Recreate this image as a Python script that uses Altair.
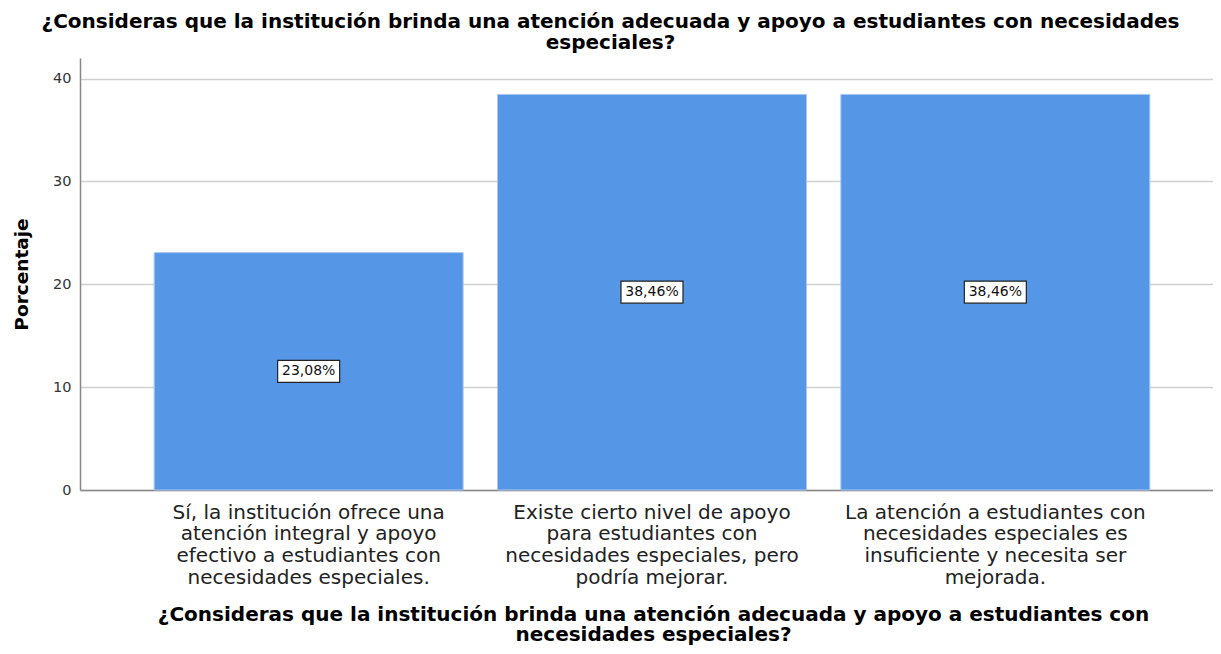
import altair as alt
import pandas as pd

categories = [
    "Sí, la institución ofrece una\natención integral y apoyo\nefectivo a estudiantes con\nnecesidades especiales.",
    "Existe cierto nivel de apoyo\npara estudiantes con\nnecesidades especiales, pero\npodría mejorar.",
    "La atención a estudiantes con\nnecesidades especiales es\ninsuficiente y necesita ser\nmejorada.",
]
values = [23.08, 38.46, 38.46]
value_labels = ["23,08%", "38,46%", "38,46%"]

title_lines = [
    "¿Consideras que la institución brinda una atención adecuada y apoyo a estudiantes con necesidades",
    "especiales?",
]
x_title_lines = [
    "¿Consideras que la institución brinda una atención adecuada y apoyo a estudiantes con",
    "necesidades especiales?",
]
y_title = "Porcentaje"

df = pd.DataFrame({"cat": categories, "val": values, "lab": value_labels})
df["mid"] = df["val"] / 2

FONT = "DejaVu Sans"

x_enc = alt.X(
    "cat:N",
    sort=categories,
    scale=alt.Scale(paddingInner=0.1, paddingOuter=0.2, align=0.54),
    axis=alt.Axis(
        title=x_title_lines,
        labelExpr="split(datum.value, '\\n')",
        labelAngle=0,
        labelFontSize=20,
        labelLineHeight=21.7,
        labelColor="#222222",
        labelPadding=12,
        labelLimit=400,
        ticks=False,
        domainColor="#888888",
        domainWidth=1.5,
        titleFontSize=20,
        titleFontWeight="bold",
        titleColor="#000000",
        titleLineHeight=20,
        titlePadding=17,
        titleX=573,
        titleAlign="center",
        grid=False,
    ),
)

bars = alt.Chart(df).mark_bar(color="#5596E6", stroke="#a9c8f2", strokeWidth=1).encode(
    x=x_enc,
    y=alt.Y(
        "val:Q",
        scale=alt.Scale(domain=[0, 42], nice=False),
        axis=alt.Axis(
            title=y_title,
            values=[0, 10, 20, 30, 40],
            ticks=False,
            labelFontSize=14.5,
            labelColor="#333333",
            labelPadding=9,
            domainColor="#888888",
            domainWidth=1.5,
            gridColor="#d0d0d0",
            gridWidth=1.5,
            titleFontSize=18.5,
            titleFontWeight="bold",
            titleColor="#000000",
            titlePadding=21,
        ),
    ),
)

box_path = "M-1,-0.355L1,-0.355L1,0.355L-1,0.355Z"
boxes = alt.Chart(df).mark_point(
    shape=box_path, size=3844, filled=True, fill="white", stroke="#222222", strokeWidth=1.2, opacity=1
).encode(x=alt.X("cat:N", sort=categories), y="mid:Q")

texts = alt.Chart(df).mark_text(fontSize=14, color="#111111", baseline="middle").encode(
    x=alt.X("cat:N", sort=categories), y="mid:Q", text="lab:N"
)

chart = (
    alt.layer(bars, boxes, texts)
    .properties(
        width=1133,
        height=432,
        title=alt.TitleParams(
            text=title_lines,
            fontSize=20,
            fontWeight="bold",
            color="#000000",
            lineHeight=21.5,
            anchor="middle",
            offset=5,
            dx=-36,
        ),
        autosize=alt.AutoSizeParams(type="none"),
        padding={"left": 72, "top": 50, "right": 0, "bottom": 156},
    )
    .configure(font=FONT)
    .configure_view(stroke=None)
)

chart.save("out.html", embed_options={"renderer": "svg", "actions": False})
